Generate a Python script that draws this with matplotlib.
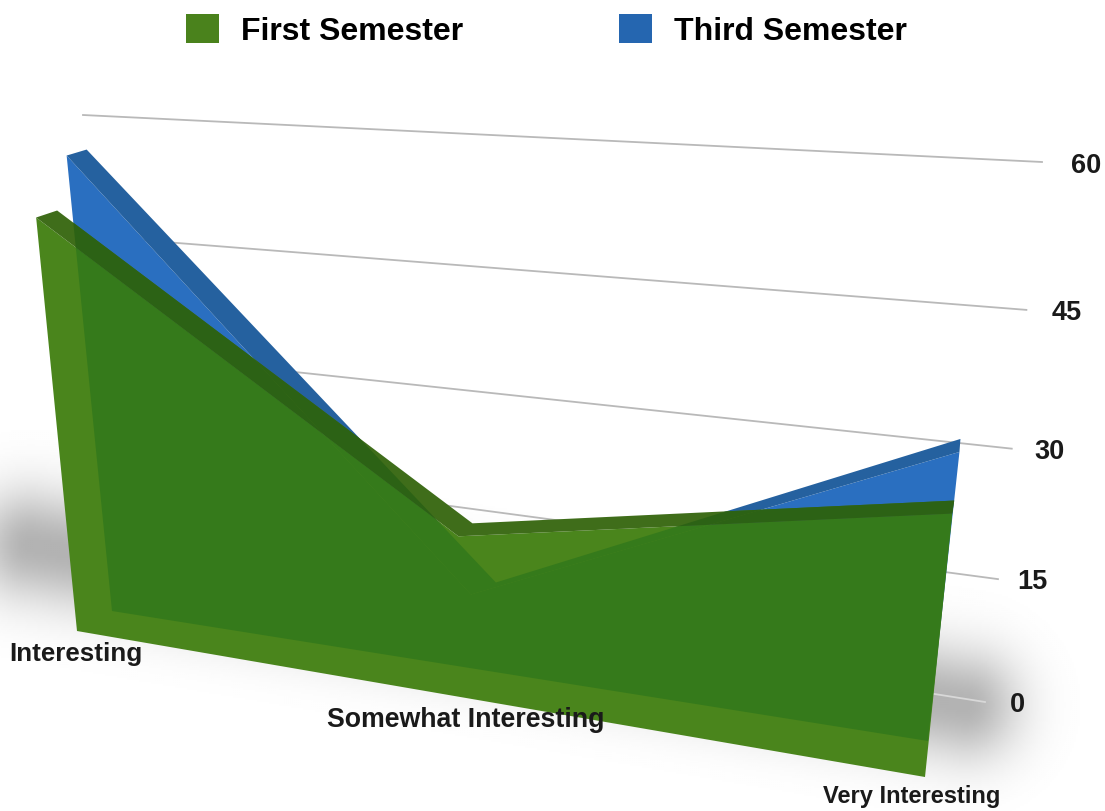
import numpy as np
import matplotlib
matplotlib.use("Agg")
import matplotlib.pyplot as plt
from matplotlib.patches import Patch, Polygon
from matplotlib.transforms import Transform

# ---- data ----
categories = ["Interesting", "Somewhat Interesting", "Very Interesting"]
first_semester = [50, 19, 28]
third_semester = [56, 9, 30]
value_ticks = [0, 15, 30, 45, 60]
series_names = ["First Semester", "Third Semester"]

# ---- perspective planes: pixel corners of (cat0,v0),(cat2,v0),(cat0,v60),(cat2,v60) ----
GREEN_FRONT = [(77, 632), (925, 778), (27, 126), (988, 169)]
BLUE_FRONT = [(112, 612), (928, 742), (63, 120), (996, 117)]
WALL = [(128, 567), (985, 703), (83, 116), (1042, 163)]
TICK_LABELS = [(160, 570), (1017, 705), (127, 118), (1086, 166)]
CAT_LABELS = [(76, 654), (912, 797), (76, 154), (912, 297)]
CAT_NUDGE = [(0, 0), (-28, -5), (0, 0)]
CAT_SIZES = [18.7, 19.3, 17]
# pixel depth of the top surface at each category
GREEN_DEPTH = [(21, -7), (14, -13), (2, -13)]
BLUE_DEPTH = [(20, -6), (25, -12), (1, -13)]


class Projective(Transform):
    input_dims = 2
    output_dims = 2
    is_separable = False
    has_inverse = False

    def __init__(self, corners):
        super().__init__()
        src = [(0, 0), (2, 0), (0, 60), (2, 60)]
        A, b = [], []
        for (u, v), (x, y) in zip(src, corners):
            A.append([u, v, 1, 0, 0, 0, -u * x, -v * x])
            A.append([0, 0, 0, u, v, 1, -u * y, -v * y])
            b += [x, y]
        self.H = np.append(np.linalg.solve(np.array(A, float), np.array(b, float)), 1).reshape(3, 3)

    def transform_non_affine(self, values):
        values = np.asarray(values, float)
        p = np.c_[values, np.ones(len(values))] @ self.H.T
        return p[:, :2] / p[:, 2:3]


plt.rcParams["font.family"] = ["Liberation Sans", "DejaVu Sans"]
fig = plt.figure(figsize=(11.05, 8.12), dpi=100)
ax = fig.add_axes([0, 0, 1, 1])
ax.set_xlim(0, 1105)
ax.set_ylim(812, 0)
ax.axis("off")

# soft floor shadow
yy, xx = np.mgrid[0:812:2, 0:1105:2]
a = np.array([30.0, 545.0])
b = np.array([965.0, 705.0])
d = b - a
t = np.clip(((xx - a[0]) * d[0] + (yy - a[1]) * d[1]) / (d @ d), 0, 1)
dist = np.hypot(xx - a[0] - t * d[0], yy - a[1] - t * d[1])
shade = 1 - 0.30 * np.exp(-(dist / 55.0) ** 2)
ax.imshow(shade, cmap="gray", vmin=0, vmax=1, extent=(0, 1105, 812, 0), zorder=0, aspect="auto")
ax.set_xlim(0, 1105)
ax.set_ylim(812, 0)

cat_x = np.arange(len(categories))
wall = Projective(WALL) + ax.transData
for v in value_ticks:
    faint = v == 0
    ax.plot([0, 2], [v, v], transform=wall, color="#d8d8d8" if faint else "#b9b9b9",
            lw=1.3, zorder=1)


def draw_series(vals, front, depth, face_col, strip_col, z):
    proj = Projective(front)
    tops = np.c_[cat_x, vals]
    fa = Polygon(np.r_[[(0, 0)], tops, [(2, 0)]], closed=True, transform=proj + ax.transData,
                 fc=face_col, ec="none", zorder=z)
    ax.add_patch(fa)
    # top surface between the front edge and the same edge moved back in depth
    pts_f = proj.transform(tops)
    pts_b = pts_f + np.array(depth)
    strip = Polygon(np.r_[pts_f, pts_b[::-1]], closed=True, fc=strip_col, ec="none", zorder=z + 0.5)
    ax.add_patch(strip)
    return fa, strip


b_face, b_strip = draw_series(third_semester, BLUE_FRONT, BLUE_DEPTH, "#2a6fc0", "#25619f", 2)
g_face, g_strip = draw_series(first_semester, GREEN_FRONT, GREEN_DEPTH, "#4a851c", "#3f6d1a", 3)

# where green lies over blue the colours are darker
for clip, col, z in ((g_face, "#357a1b", 3.2), (g_strip, "#2c6215", 3.7)):
    for src in (b_face, b_strip):
        over = Polygon(src.get_xy(), closed=True, transform=src.get_transform(), fc=col,
                       ec="none", zorder=z)
        ax.add_patch(over)
        over.set_clip_path(clip)

# tick labels
lab = Projective(TICK_LABELS)
for v in value_ticks:
    x, y = lab.transform([(2, v)])[0]
    ax.text(x, y, str(v), ha="center", va="center", fontsize=19.5, fontweight="bold",
            color="#1a1a1a", zorder=6)

# category labels
lab = Projective(CAT_LABELS)
for c, name, (dx, dy), size in zip(cat_x, categories, CAT_NUDGE, CAT_SIZES):
    x, y = lab.transform([(c, 0)])[0]
    ax.text(x + dx, y + dy, name, ha="center", va="center",
            fontsize=size, fontweight="bold", color="#1a1a1a", zorder=6)

handles = [Patch(fc="#4a821c", ec="none", label=series_names[0]),
           Patch(fc="#2566b0", ec="none", label=series_names[1])]
ax.legend(handles=handles, loc="upper left", bbox_to_anchor=(186 / 1105, 1 - 15 / 812),
          ncol=2, frameon=False, prop={"weight": "bold", "size": 23}, borderpad=0, borderaxespad=0,
          handlelength=1.04, handleheight=1.0, handletextpad=0.69, columnspacing=4.86)

fig.savefig("out.png", dpi=100)
